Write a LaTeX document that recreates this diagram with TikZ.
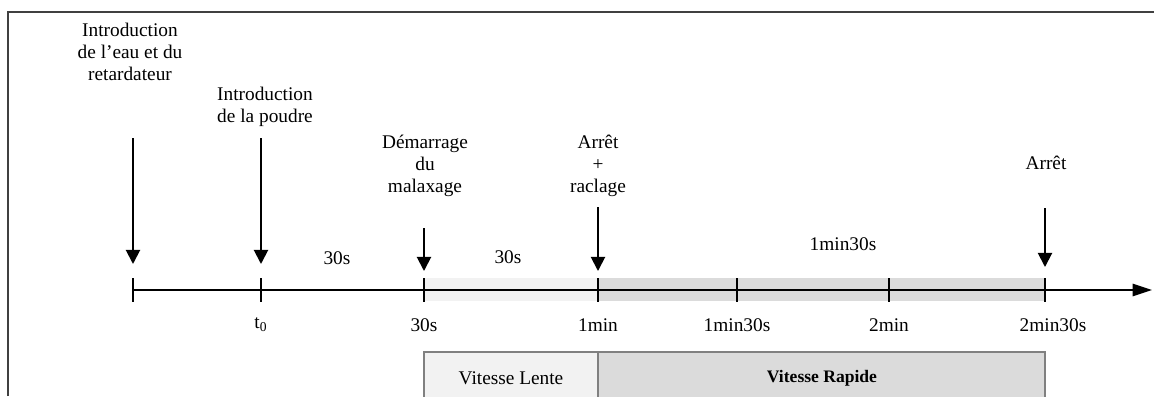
\documentclass[tikz,border=0pt]{standalone}
\usepackage{fontspec}
\setmainfont{Liberation Serif}
\usepackage{tikz}
\usetikzlibrary{
  arrows.meta,%
  positioning
}
\tikzset{>=latex}
\tikzset{font=\fontsize{11}{12.5}\selectfont}
\tikzset{event/.style={align=center, inner sep=0pt, anchor=north},
  evarrow/.style={-{Triangle[width=8pt,length=8pt]}, line width=1.1pt},
  timeaxis/.style={-{Triangle[width=7pt,length=11pt]}, line width=0.9pt},
  tickmark/.style={line width=0.9pt},
  ticklab/.style={inner sep=0pt},
  speedbox/.style={draw=black!50, line width=0.6pt}}

\begin{document}
\begin{tikzpicture}[x=0.02cm,y=-0.02cm]
          \useasboundingbox (0,0) rectangle (1154,396);
          % frame
          \draw[line width=1pt, black!75] (8,396) -- (8,12) -- (1154,12);
          % bands along the axis
          \fill[black!5] (424,278) rectangle (598,301);
          \fill[black!14] (598,278) rectangle (1045,301);
          % axis
          \coordinate (origin) at (133,290);
          \coordinate (axisend) at (1152,290);
          \draw[timeaxis] (origin) -- (axisend);
          \foreach \x in {133,261,424,598,737,889,1045}
            \draw[tickmark] (\x,278) -- (\x,302);
          \foreach \x/\n/\t in {261/tzero/{t\textsubscript{0}}, 424/ta/30s,
              598/tb/1min, 737/tc/1min30s, 889/td/2min, 1053/te/2min30s}
            \node[ticklab] (\n) at (\x,325) {\t};
          % events
          \node[event] (eau) at (130,23) {Introduction\\de l'eau et du\\retardateur};
          \node[event] (poudre) at (265,87) {Introduction\\de la poudre};
          \node[event] (demarrage) at (425,135) {Démarrage\\du\\malaxage};
          \node[event] (raclage) at (598,135) {Arrêt\\+\\raclage};
          \node[event] (arret) at (1046,156) {Arrêt};
          \foreach \x/\top/\tip/\n in {133/138/264/aeau, 261/138/264/apoudre,
              424/228/271/ademarrage, 598/207/271/araclage, 1045/208/267/aarret} {
            \coordinate (\n-top) at (\x,\top);
            \coordinate (\n-tip) at (\x,\tip);
            \draw[evarrow] (\n-top) -- (\n-tip);
          }
          % durations
          \node (dur1) at (337,258) {30s};
          \node (dur2) at (508,257) {30s};
          \node (dur3) at (843,244) {1min30s};
          % speeds
          \draw[speedbox, fill=black!5] (424,352) rectangle (598,400);
          \draw[speedbox, fill=black!14] (598,352) rectangle (1045,400);
          \node (lente) at (511,378) {Vitesse Lente};
          \node[font=\fontsize{10}{12}\selectfont\bfseries] (rapide) at (822,378) {Vitesse Rapide};
        \end{tikzpicture}
\end{document}
